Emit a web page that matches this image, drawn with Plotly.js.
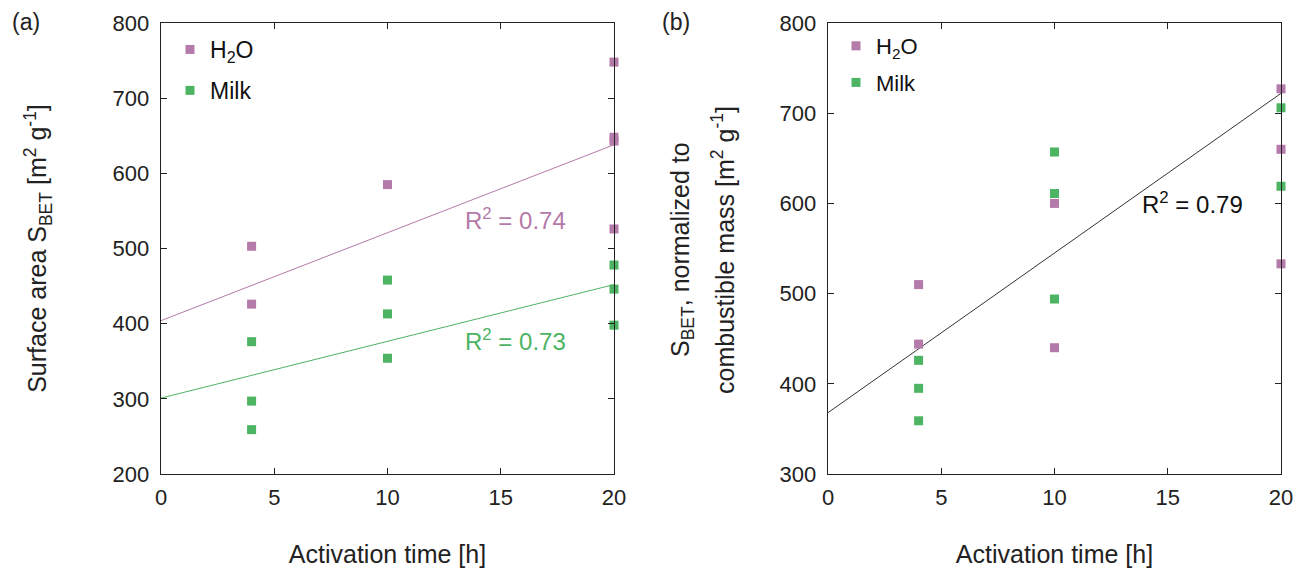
<!DOCTYPE html>
<html>
<head>
<meta charset="utf-8">
<script src="https://cdn.plot.ly/plotly-3.0.1.min.js"></script>
<style>
  html, body { margin: 0; padding: 0; background: #ffffff; }
  #chart { width: 1295px; height: 570px; }
</style>
</head>
<body>
<div id="chart"></div>
<script>
// ---------- data ----------
// Panel (a): surface area S_BET [m2 g-1]
const a_h2o_x  = [4, 4, 10, 20, 20, 20, 20];
const a_h2o_y  = [503, 426, 585, 748, 648, 643, 526];
const a_milk_x = [4, 4, 4, 10, 10, 10, 20, 20, 20];
const a_milk_y = [376, 297, 259, 458, 413, 354, 478, 446, 398];
// linear fits drawn in panel (a) (end points)
const a_fit_x      = [0, 20];
const a_h2o_fit_y  = [404, 638];
const a_milk_fit_y = [301, 452];
// Panel (b): S_BET normalized to combustible mass [m2 g-1]
const b_h2o_x  = [4, 4, 10, 10, 20, 20, 20];
const b_h2o_y  = [510, 444, 600, 440, 727, 660, 533];
const b_milk_x = [4, 4, 4, 10, 10, 10, 20, 20];
const b_milk_y = [426, 395, 359, 657, 611, 494, 706, 619];
const b_fit_x  = [0, 20];
const b_fit_y  = [368, 722];
// labels
const seriesNames = ['H<sub>2</sub>O', 'Milk'];
const r2Labels = ['R<sup>2</sup> = 0.74', 'R<sup>2</sup> = 0.73', 'R<sup>2</sup> = 0.79'];

// ---------- style ----------
const PURPLE = '#B47AAA';
const GREEN  = '#4CB462';
const TXT    = '#222222';
const FONT   = 'Liberation Sans, Arial, sans-serif';
const W = 1295, H = 570;
const px = v => v / W;           // horizontal pixel -> paper
const py = v => (H - v) / H;     // vertical pixel -> paper

const mk = (c) => ({ symbol: 'square', size: 9, color: c, line: { width: 0 } });

const traces = [
  { type: 'scatter', mode: 'lines', x: a_fit_x, y: a_h2o_fit_y, xaxis: 'x', yaxis: 'y',
    line: { color: PURPLE, width: 1 }, showlegend: false, hoverinfo: 'skip' },
  { type: 'scatter', mode: 'lines', x: a_fit_x, y: a_milk_fit_y, xaxis: 'x', yaxis: 'y',
    line: { color: GREEN, width: 1 }, showlegend: false, hoverinfo: 'skip' },
  { type: 'scatter', mode: 'markers', name: seriesNames[0], x: a_h2o_x, y: a_h2o_y,
    xaxis: 'x', yaxis: 'y', marker: mk(PURPLE), cliponaxis: false, legend: 'legend', legendgroup: 'a1' },
  { type: 'scatter', mode: 'markers', name: seriesNames[1], x: a_milk_x, y: a_milk_y,
    xaxis: 'x', yaxis: 'y', marker: mk(GREEN), cliponaxis: false, legend: 'legend', legendgroup: 'a2' },

  { type: 'scatter', mode: 'lines', x: b_fit_x, y: b_fit_y, xaxis: 'x2', yaxis: 'y2',
    line: { color: '#333333', width: 1 }, showlegend: false, hoverinfo: 'skip' },
  { type: 'scatter', mode: 'markers', name: seriesNames[0], x: b_h2o_x, y: b_h2o_y,
    xaxis: 'x2', yaxis: 'y2', marker: mk(PURPLE), cliponaxis: false, legend: 'legend2', legendgroup: 'b1' },
  { type: 'scatter', mode: 'markers', name: seriesNames[1], x: b_milk_x, y: b_milk_y,
    xaxis: 'x2', yaxis: 'y2', marker: mk(GREEN), cliponaxis: false, legend: 'legend2', legendgroup: 'b2' }
];

const axBase = {
  showline: true, linecolor: '#222', linewidth: 1.3, mirror: 'ticks',
  ticks: 'inside', ticklen: 6, tickwidth: 1.3, tickcolor: '#222',
  showgrid: false, zeroline: false, automargin: false,
  tickfont: { family: FONT, size: 22, color: TXT }
};

const layout = {
  width: W, height: H,
  margin: { l: 0, r: 0, t: 0, b: 0 },
  paper_bgcolor: '#ffffff', plot_bgcolor: '#ffffff',
  font: { family: FONT, color: TXT },
  showlegend: true,
  xaxis: Object.assign({}, axBase, {
    domain: [px(161), px(614)], range: [0, 20], dtick: 5, tick0: 0, anchor: 'y',
    ticklabelstandoff: 3,
    title: { text: 'Activation time [h]', font: { family: FONT, size: 25, color: TXT }, standoff: 36 }
  }),
  yaxis: Object.assign({}, axBase, {
    domain: [py(474), py(23)], range: [200, 800], dtick: 100, anchor: 'x',
    ticklabelstandoff: 6,
    title: { text: 'Surface area S<sub>BET</sub> [m<sup>2</sup> g<sup>-1</sup>]',
             font: { family: FONT, size: 25, color: TXT }, standoff: 58 }
  }),
  xaxis2: Object.assign({}, axBase, {
    domain: [px(828), px(1281)], range: [0, 20], dtick: 5, tick0: 0, anchor: 'y2',
    ticklabelstandoff: 3,
    title: { text: 'Activation time [h]', font: { family: FONT, size: 25, color: TXT }, standoff: 36 }
  }),
  yaxis2: Object.assign({}, axBase, {
    domain: [py(474), py(23)], range: [300, 800], dtick: 100, anchor: 'x2',
    ticklabelstandoff: 6
  }),
  legend: {
    x: px(170), y: py(28), xanchor: 'left', yanchor: 'top',
    bgcolor: 'rgba(0,0,0,0)', borderwidth: 0, tracegroupgap: 8,
    font: { family: FONT, size: 23, color: '#111' }
  },
  legend2: {
    x: px(836), y: py(25), xanchor: 'left', yanchor: 'top',
    bgcolor: 'rgba(0,0,0,0)', borderwidth: 0, tracegroupgap: 5,
    font: { family: FONT, size: 22, color: '#111' }
  },
  annotations: [
    { text: '(a)', xref: 'paper', yref: 'paper', x: px(10), y: py(22), xanchor: 'left', yanchor: 'middle',
      showarrow: false, font: { family: FONT, size: 23, color: TXT } },
    { text: '(b)', xref: 'paper', yref: 'paper', x: px(660), y: py(22), xanchor: 'left', yanchor: 'middle',
      showarrow: false, font: { family: FONT, size: 23, color: TXT } },
    { text: r2Labels[0], xref: 'paper', yref: 'paper', x: px(463), y: py(219), xanchor: 'left', yanchor: 'middle',
      showarrow: false, font: { family: FONT, size: 24, color: PURPLE } },
    { text: r2Labels[1], xref: 'paper', yref: 'paper', x: px(463), y: py(340), xanchor: 'left', yanchor: 'middle',
      showarrow: false, font: { family: FONT, size: 24, color: GREEN } },
    { text: r2Labels[2], xref: 'paper', yref: 'paper', x: px(1140), y: py(203), xanchor: 'left', yanchor: 'middle',
      showarrow: false, font: { family: FONT, size: 24, color: '#111' } },
    { text: 'S<sub>BET</sub>, normalized to', xref: 'paper', yref: 'paper', x: px(682), y: py(250),
      xanchor: 'center', yanchor: 'middle', textangle: -90, showarrow: false,
      font: { family: FONT, size: 25, color: TXT } },
    { text: 'combustible mass [m<sup>2</sup> g<sup>-1</sup>]', xref: 'paper', yref: 'paper', x: px(723), y: py(250),
      xanchor: 'center', yanchor: 'middle', textangle: -90, showarrow: false,
      font: { family: FONT, size: 25, color: TXT } }
  ]
};

Plotly.newPlot('chart', traces, layout, { displayModeBar: false, staticPlot: true });
</script>
</body>
</html>
